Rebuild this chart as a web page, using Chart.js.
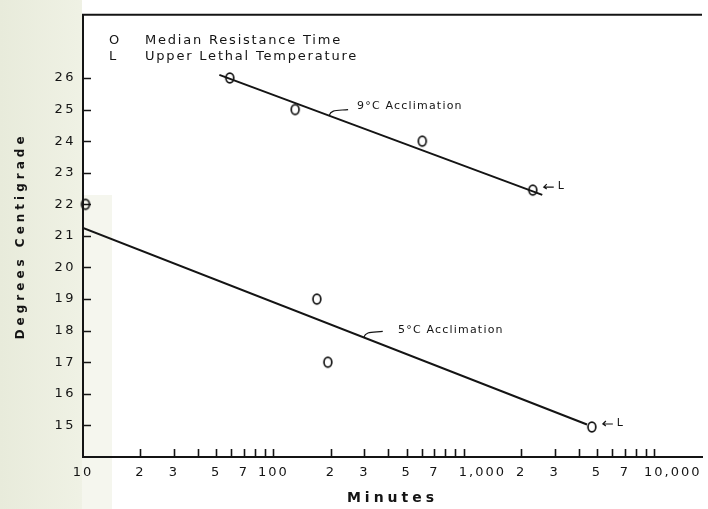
<!DOCTYPE html>
<html>
<head>
<meta charset="utf-8">
<script src="https://cdn.jsdelivr.net/npm/chart.js@4/dist/chart.umd.min.js"></script>
<style>
  html, body { margin: 0; padding: 0; background: #ffffff; }
  #c { display: block; }
</style>
</head>
<body>
<canvas id="c" width="708" height="509"></canvas>
<script>
// Median resistance times (minutes) and temperatures (°C)
const pts9Minutes = [59, 130, 605, 2300];
const pts9Temps   = [26.0, 25.0, 24.0, 22.45];
const pts5Minutes = [10.3, 169, 193, 4700];
const pts5Temps   = [22.0, 19.0, 17.0, 14.95];

// Fitted lines (end points, minutes / °C)
const fit9Minutes = [52, 2580];
const fit9Temps   = [26.1, 22.3];
const fit5Minutes = [10, 4430];
const fit5Temps   = [21.25, 15.03];

// Axis ticks
const yTickValues  = [15, 16, 17, 18, 19, 20, 21, 22, 23, 24, 25, 26];
const xLabelValues = [10, 20, 30, 50, 70, 100, 200, 300, 500, 700, 1000, 2000, 3000, 5000, 7000, 10000];
const xLabelTexts  = ['10', '2', '3', '5', '7', '100', '2', '3', '5', '7', '1,000', '2', '3', '5', '7', '10,000'];
const xMinorValues = [20, 30, 40, 50, 60, 70, 80, 90, 100, 200, 300, 400, 500, 600, 700, 800, 900,
                      1000, 2000, 3000, 4000, 5000, 6000, 7000, 8000, 9000, 10000];

// Legend and line labels
const legendSymbols = ['O', 'L'];
const legendTexts   = ['Median Resistance Time', 'Upper Lethal Temperature'];
const lineLabels    = ['9°C Acclimation', '5°C Acclimation'];

const INK = '#141414';
const FONT = '"DejaVu Sans", sans-serif';

const toXY = (xs, ys) => xs.map((x, i) => ({ x, y: ys[i] }));

// Hand-lettered "O" marker
function makeOMarker() {
  const c = document.createElement('canvas');
  c.width = 12; c.height = 14;
  const g = c.getContext('2d');
  g.strokeStyle = INK;
  g.lineWidth = 1.7;
  g.beginPath();
  g.ellipse(6, 7, 3.9, 4.9, 0, 0, Math.PI * 2);
  g.stroke();
  return c;
}
const oMarker = makeOMarker();

// Fit line value at a given number of minutes
function fitAt(xs, ys, m) {
  const t = (Math.log10(m) - Math.log10(xs[0])) / (Math.log10(xs[1]) - Math.log10(xs[0]));
  return ys[0] + t * (ys[1] - ys[0]);
}

const decorations = {
  id: 'decorations',
  beforeDraw(chart) {
    const ctx = chart.ctx;
    ctx.save();
    // tinted paper strip along the left margin
    const grad = ctx.createLinearGradient(0, 0, 112, 0);
    grad.addColorStop(0, '#e8ebdb');
    grad.addColorStop(0.7, '#eff1e4');
    grad.addColorStop(1, '#f4f5ec');
    ctx.fillStyle = grad;
    ctx.fillRect(0, 0, 82, chart.height);
    ctx.fillStyle = '#f5f6ee';
    ctx.fillRect(82, 195, 30, chart.height - 195);
    ctx.restore();
  },
  afterLayout(chart) {
    const spacing = { x: ['2px', '4px'], y: ['2.5px', '4px'] };
    for (const id of ['x', 'y']) {
      const s = chart.scales[id];
      if (!s || s._spacedText) continue;
      const origLabels = s.drawLabels, origTitle = s.drawTitle;
      s.drawLabels = function (...a) {
        const prev = this.ctx.letterSpacing;
        this.ctx.letterSpacing = spacing[id][0];
        origLabels.apply(this, a);
        this.ctx.letterSpacing = prev;
      };
      s.drawTitle = function (...a) {
        const prev = this.ctx.letterSpacing;
        this.ctx.letterSpacing = spacing[id][1];
        origTitle.apply(this, a);
        this.ctx.letterSpacing = prev;
      };
      if (id === 'x') {
        // thousands labels sit with their leading digits over the tick
        const origItems = s._computeLabelItems;
        s._computeLabelItems = function (...a) {
          const items = origItems.apply(this, a);
          const ctx = this.ctx;
          ctx.save();
          ctx.letterSpacing = spacing.x[0];
          for (const it of items) {
            const label = String(it.label);
            const k = label.indexOf(',');
            if (k < 0) continue;
            ctx.font = it.font.string;
            const full = ctx.measureText(label).width;
            const head = ctx.measureText(label.slice(0, k)).width;
            it.options.translation[0] += (full - head) / 2;
          }
          ctx.restore();
          return items;
        };
      }
      s._spacedText = true;
    }
  },
  afterDraw(chart) {
    const ctx = chart.ctx;
    const xs = chart.scales.x, ys = chart.scales.y;
    const area = chart.chartArea;
    ctx.save();
    ctx.strokeStyle = INK;
    ctx.fillStyle = INK;

    // top frame line
    ctx.lineWidth = 2;
    ctx.beginPath();
    ctx.moveTo(area.left - 1, area.top);
    ctx.lineTo(area.right, area.top);
    ctx.stroke();

    // inward tick marks
    ctx.lineWidth = 1.6;
    ctx.beginPath();
    for (const v of yTickValues) {
      const py = Math.round(ys.getPixelForValue(v)) + 0.5;
      ctx.moveTo(area.left, py);
      ctx.lineTo(area.left + 8, py);
    }
    for (const v of xMinorValues) {
      const px = Math.round(xs.getPixelForValue(v)) + 0.5;
      ctx.moveTo(px, area.bottom);
      ctx.lineTo(px, area.bottom - 8);
    }
    ctx.stroke();

    // legend
    ctx.textBaseline = 'middle';
    ctx.textAlign = 'left';
    ctx.font = '13px ' + FONT;
    ctx.letterSpacing = '1.8px';
    const legendY = [41, 57];
    legendSymbols.forEach((s, i) => {
      ctx.fillText(s, 109, legendY[i]);
      ctx.fillText(legendTexts[i], 145, legendY[i]);
    });

    // line labels with curled leaders
    ctx.font = '11px ' + FONT;
    ctx.letterSpacing = '1.2px';
    const leaders = [
      { xs: fit9Minutes, ys: fit9Temps, at: 196, text: lineLabels[0], tx: 357, ty: 106 },
      { xs: fit5Minutes, ys: fit5Temps, at: 298, text: lineLabels[1], tx: 398, ty: 330 }
    ];
    ctx.lineWidth = 1.2;
    for (const l of leaders) {
      const sx = xs.getPixelForValue(l.at);
      const sy = ys.getPixelForValue(fitAt(l.xs, l.ys, l.at));
      ctx.beginPath();
      ctx.moveTo(sx, sy);
      ctx.bezierCurveTo(sx + 2, sy - 6, sx + 7, sy - 5, sx + 19, sy - 6);
      ctx.stroke();
      ctx.fillText(l.text, l.tx, l.ty);
    }

    // "<- L" marks beside the upper lethal temperature points
    const lethal = [
      { m: pts9Minutes[3], t: pts9Temps[3] },
      { m: pts5Minutes[3], t: pts5Temps[3] }
    ];
    ctx.font = '11px ' + FONT;
    ctx.letterSpacing = '0px';
    for (const p of lethal) {
      const px = xs.getPixelForValue(p.m), py = ys.getPixelForValue(p.t) - 3;
      ctx.beginPath();
      ctx.moveTo(px + 21, py);
      ctx.lineTo(px + 11, py);
      ctx.moveTo(px + 14, py - 3);
      ctx.lineTo(px + 11, py);
      ctx.lineTo(px + 14, py + 2);
      ctx.stroke();
      ctx.fillText('L', px + 25, py - 1);
    }
    ctx.restore();
  }
};

const lineStyle = { showLine: true, pointRadius: 0, borderColor: INK, borderWidth: 2, fill: false };
const pointStyle = { showLine: false, pointStyle: oMarker, pointRadius: 5, borderColor: INK, backgroundColor: 'transparent', clip: false };

new Chart(document.getElementById('c'), {
  type: 'scatter',
  data: {
    datasets: [
      Object.assign({ label: '9°C Acclimation line', data: toXY(fit9Minutes, fit9Temps) }, lineStyle),
      Object.assign({ label: '5°C Acclimation line', data: toXY(fit5Minutes, fit5Temps) }, lineStyle),
      Object.assign({ label: '9°C Acclimation', data: toXY(pts9Minutes, pts9Temps) }, pointStyle),
      Object.assign({ label: '5°C Acclimation', data: toXY(pts5Minutes, pts5Temps) }, pointStyle)
    ]
  },
  options: {
    responsive: false,
    animation: false,
    events: [],
    layout: { padding: { top: 14, right: 2, left: 0, bottom: 0 } },
    plugins: { legend: { display: false }, tooltip: { enabled: false } },
    scales: {
      x: {
        type: 'logarithmic',
        min: 10,
        max: 17800,
        afterFit(s) { s.height = 52; },
        afterBuildTicks(s) { s.ticks = xLabelValues.map(v => ({ value: v, major: false })); },
        grid: { display: true, color: 'transparent', drawTicks: false },
        border: { display: true, color: INK, width: 2 },
        ticks: {
          autoSkip: false,
          maxRotation: 0,
          padding: 8,
          color: INK,
          font: { family: FONT, size: 13 },
          callback: (v, i) => xLabelTexts[i]
        },
        title: {
          display: true,
          text: 'Minutes',
          color: INK,
          font: { family: FONT, size: 14, weight: 'bold' },
          padding: { top: 0, bottom: 2 }
        }
      },
      y: {
        min: 14,
        max: 28,
        afterFit(s) { s.width = 83; },
        afterBuildTicks(s) { s.ticks = yTickValues.map(v => ({ value: v })); },
        grid: { display: true, color: 'transparent', drawTicks: false },
        border: { display: true, color: INK, width: 2 },
        ticks: {
          padding: 7,
          color: INK,
          font: { family: FONT, size: 13 },
          callback: v => String(v)
        },
        title: {
          display: true,
          text: 'Degrees Centigrade',
          color: INK,
          font: { family: FONT, size: 12, weight: 'bold' },
          padding: { top: 14, bottom: 0 }
        }
      }
    }
  },
  plugins: [decorations]
});
</script>
</body>
</html>
